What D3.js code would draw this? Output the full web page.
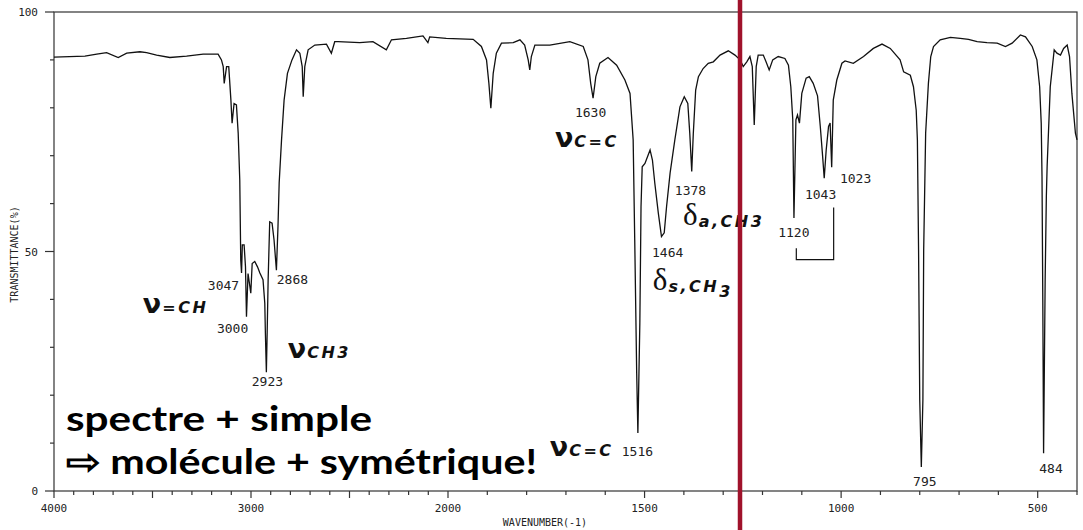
<!DOCTYPE html>
<html>
<head>
<meta charset="utf-8">
<script src="https://cdn.jsdelivr.net/npm/d3@7"></script>
<style>
  body { margin: 0; background: #fff; }
  .tick-label { font-family: "DejaVu Sans Mono", monospace; font-size: 11px; fill: #222; }
  .peak { font-family: "DejaVu Sans Mono", monospace; font-size: 13px; fill: #222; }
  .note { font-family: "DejaVu Sans", sans-serif; fill: #111; }
  .big { font-family: Lato, sans-serif; font-weight: bold; font-size: 35px; fill: #000; }
</style>
</head>
<body>
<svg width="1083" height="530"></svg>
<script>
// spectrum trace: wavenumber (cm-1) and transmittance (%)
var wavenumber = [4000,3843,3783,3733,3674,3631,3564,3530,3479,3412,3327,3243,3167,3150,3141,3136,3124,3113,3102,3096,3086,3074,3065,3057,3052,3048,3044,3035,3028,3023,3015,3001,2994,2981,2967,2955,2939,2930,2927,2922,2918,2913,2905,2893,2883,2871,2863,2857,2845,2832,2815,2792,2769,2752,2740,2735,2727,2710,2676,2617,2592,2575,2558,2448,2381,2313,2287,2211,2127,2102,2093,2009,
  1936,1915,1902,1896,1891,1885,1877,1864,1834,1817,1805,1796,1792,1788,1779,1741,1690,1656,1644,1637,1631,1624,1614,1593,1571,1550,1537,1529,1525,1520,1517,1512,1509,1506,1499,1486,1480,1474,1465,1457,1450,1444,1435,1423,1410,1399,1390,1385,1380,1376,1370,1363,1351,1338,1325,1308,1287,1270,1257,1249,1240,1232,1226,1221,1216,1211,1198,1191,1183,1174,1160,1143,1134,1128,1123,1120,1115,1111,1106,1100,1089,1081,1071,1060,1053,1047,1043,1038,1032,1028,1024,1020,1011,998,990,969,943,918,896,875,850,841,824,816,809,806,803,800,796,792,790,785,778,772,765,748,722,697,676,654,629,603,582,565,544,531,514,502,495,491,489,487,485,481,478,476,468,458,451,442,434,425,419,413,404,400];
var transmittance = [90.6,90.8,91.2,91.5,90.5,91.4,91.7,91.5,91.0,90.5,90.8,91.2,91.2,90.0,88.6,85.1,88.6,88.6,81.6,76.8,80.9,80.6,74.7,64.9,48.2,45.5,51.4,51.4,46.8,36.4,45.4,41.3,47.5,47.9,46.8,45.5,44.1,39.2,33.0,24.8,33.0,44.1,56.2,55.9,52.4,46.1,55.2,64.3,73.3,81.6,87.2,90.0,92.1,91.4,88.6,82.3,88.6,92.1,93.1,93.3,91.4,93.8,93.8,93.6,93.8,92.1,94.2,94.5,95.0,93.6,94.8,94.5,
  94.3,92.8,90.0,85.1,79.9,87.2,91.4,93.5,93.6,94.2,93.1,90.0,87.9,90.7,93.1,93.1,93.8,92.8,90.0,85.1,82.0,86.5,89.3,90.5,88.9,85.8,83.0,73.3,52.4,24.6,12.1,35.1,59.4,67.7,68.4,71.2,69.1,64.3,58.0,53.1,53.9,59.4,66.4,73.3,80.2,82.3,80.9,74.7,66.7,74.7,83.7,86.5,88.2,89.3,89.6,91.0,91.9,91.0,90.0,88.6,89.6,90.7,88.6,76.4,88.6,91.0,91.0,89.6,87.9,90.0,90.7,90.3,88.9,84.4,77.5,57.0,77.5,78.5,76.8,83.0,86.2,86.5,85.1,82.5,76.1,69.8,65.3,71.2,76.1,76.8,67.6,81.6,85.8,89.3,89.8,89.3,90.7,92.4,93.3,92.4,90.0,87.5,86.8,84.4,79.5,73.3,50.3,19.0,5.0,19.0,50.3,74.7,85.1,90.7,92.8,94.2,94.7,94.5,94.3,93.8,93.6,93.5,92.8,93.5,95.2,94.8,92.8,90.0,84.4,76.8,65.6,39.9,7.9,44.1,61.4,67.7,84.4,92.1,91.4,91.0,92.4,93.1,90.7,83.0,74.7,73.3];

var xTickLabels = [4000, 3000, 2000, 1500, 1000, 500];
var yTickLabels = [0, 50, 100];

// peak labels: text, and where the label sits (wavenumber, %T)
var peakText = ["1630","3047","3000","2868","2923","1516","1464","1378","1120","1043","1023","795","484"];
var peakWn   = [1677, 3219, 3173, 2869, 2996, 1558, 1481, 1423, 1160, 1092, 1003, 817, 496];
var peakT    = [78.1, 42.0, 33.0, 43.2, 21.9, 7.3, 48.9, 61.8, 53.0, 61.0, 64.3, 1.0, 3.8];

// vibration mode notes
var noteSym  = ["ν", "ν", "ν", "ν", "δ", "δ"];
var noteSub  = ["=CH", "CH3", "C=C", "C=C", "s,CH", "a,CH3"];
var noteSub2 = ["", "", "", "", "3", ""];
var noteWn   = [3549, 2813, 1728, 1741, 1479, 1402];
var noteT    = [37.2, 27.8, 71.8, 7.3, 42.0, 55.5];

var svg = d3.select("svg"),
    width = +svg.attr("width"),
    height = +svg.attr("height");

// IR charts change scale at 2000 cm-1
var x = d3.scaleLinear().domain([4000, 2000, 400]).range([54, 448, 1077]);
var y = d3.scaleLinear().domain([0, 100]).range([491, 12]);

var minorX = d3.range(4000, 399, -100);

// frame
svg.append("rect")
    .attr("x", x(4000)).attr("y", y(100))
    .attr("width", x(400) - x(4000)).attr("height", y(0) - y(100))
    .attr("fill", "none").attr("stroke", "#333").attr("stroke-width", 1.2);

// x ticks, minor every 100, longer every 500
svg.append("g").selectAll("line")
    .data(minorX)
    .enter().append("line")
      .attr("x1", function(d) { return x(d); })
      .attr("x2", function(d) { return x(d); })
      .attr("y1", y(0))
      .attr("y2", function(d) { return y(0) + (d % 500 == 0 ? 7 : 4); })
      .attr("stroke", "#333").attr("stroke-width", 1.2);

svg.append("g").selectAll("text")
    .data(xTickLabels)
    .enter().append("text")
      .attr("class", "tick-label")
      .attr("x", function(d) { return x(d); })
      .attr("y", y(0) + 21)
      .attr("text-anchor", "middle")
      .text(function(d) { return d; });

// y ticks
svg.append("g").selectAll("line")
    .data(d3.range(0, 101, 10))
    .enter().append("line")
      .attr("x1", function(d) { return x(4000) - (d % 50 == 0 ? 9 : 4); })
      .attr("x2", x(4000))
      .attr("y1", function(d) { return y(d); })
      .attr("y2", function(d) { return y(d); })
      .attr("stroke", "#333").attr("stroke-width", 1.2);

svg.append("g").selectAll("text")
    .data(yTickLabels)
    .enter().append("text")
      .attr("class", "tick-label")
      .attr("x", 38)
      .attr("y", function(d) { return y(d) + 4; })
      .attr("text-anchor", "end")
      .text(function(d) { return d; });

svg.append("text")
    .attr("class", "tick-label")
    .attr("x", 545)
    .attr("y", 526)
    .attr("text-anchor", "middle")
    .style("font-size", "10px")
    .text("WAVENUMBER(-1)");

svg.append("text")
    .attr("class", "tick-label")
    .attr("transform", "translate(18," + (y(50) + 3) + ") rotate(-90)")
    .attr("text-anchor", "middle")
    .style("font-size", "10px")
    .text("TRANSMITTANCE(%)");

// the spectrum
var line = d3.line()
    .x(function(d) { return x(d[0]); })
    .y(function(d) { return y(d[1]); });

svg.append("path")
    .datum(d3.zip(wavenumber, transmittance))
    .attr("d", line)
    .attr("fill", "none")
    .attr("stroke", "#111")
    .attr("stroke-width", 1.3);

// peak numbers
svg.append("g").selectAll("text")
    .data(d3.range(peakText.length))
    .enter().append("text")
      .attr("class", "peak")
      .attr("x", function(i) { return x(peakWn[i]); })
      .attr("y", function(i) { return y(peakT[i]); })
      .text(function(i) { return peakText[i]; });

// bracket joining 1120 and 1043
svg.append("path")
    .attr("d", "M" + x(1114) + "," + y(50.7) + "V" + y(48.3) + "H" + x(1019) + "V" + y(59.2))
    .attr("fill", "none").attr("stroke", "#111").attr("stroke-width", 1.2);

// mode notes
var notes = svg.append("g").selectAll("text")
    .data(d3.range(noteSym.length))
    .enter().append("text")
      .attr("class", "note")
      .attr("x", function(i) { return x(noteWn[i]); })
      .attr("y", function(i) { return y(noteT[i]); });

notes.append("tspan")
    .style("font-family", function(i) { return noteSym[i] == "δ" ? "Liberation Serif, serif" : "DejaVu Sans, sans-serif"; })
    .style("font-size", function(i) { return noteSym[i] == "δ" ? "31px" : "27px"; })
    .style("font-weight", function(i) { return noteSym[i] == "δ" ? "normal" : "bold"; })
    .text(function(i) { return noteSym[i]; });

notes.append("tspan")
    .attr("dy", function(i) { return noteSym[i] == "δ" ? 2 : 0; })
    .attr("dx", 1)
    .style("font-size", "16px")
    .style("font-weight", "bold")
    .style("font-style", "italic")
    .style("letter-spacing", "2.5px")
    .text(function(i) { return noteSub[i]; });

notes.append("tspan")
    .attr("dy", 5)
    .style("font-size", "16px")
    .style("font-weight", "bold")
    .style("font-style", "italic")
    .text(function(i) { return noteSub2[i]; });

// message
svg.append("text")
    .attr("class", "big")
    .attr("x", 66).attr("y", 431)
    .attr("textLength", 306).attr("lengthAdjust", "spacingAndGlyphs")
    .text("spectre + simple");

svg.append("text")
    .attr("class", "big")
    .attr("x", 66).attr("y", 474)
    .attr("textLength", 471).attr("lengthAdjust", "spacingAndGlyphs")
    .text("⇨ molécule + symétrique!");

// red divider
svg.append("line")
    .attr("x1", 740).attr("x2", 740)
    .attr("y1", 0).attr("y2", height)
    .attr("stroke", "#a0122b")
    .attr("stroke-width", 4.5);
</script>
</body>
</html>
